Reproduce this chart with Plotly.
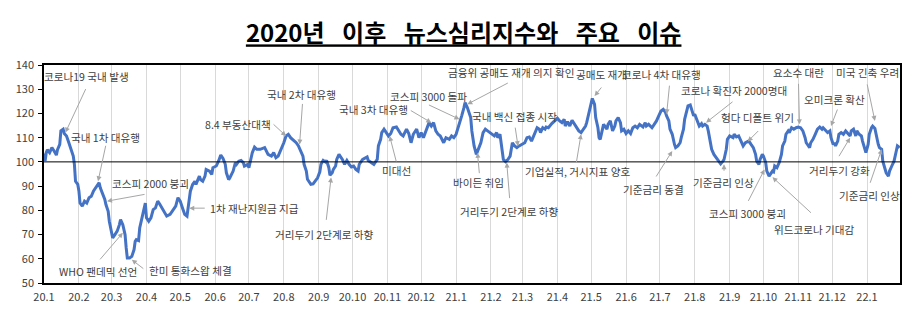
import plotly.graph_objects as go

# News sentiment index (daily observations), 2020-01 .. 2022-01
dates = [
    "2020-01-01", "2020-01-02", "2020-01-03", "2020-01-04", "2020-01-06", "2020-01-08", "2020-01-10", "2020-01-12",
    "2020-01-13", "2020-01-15", "2020-01-16", "2020-01-18", "2020-01-19", "2020-01-21", "2020-01-23", "2020-01-25",
    "2020-01-27", "2020-01-28", "2020-01-29", "2020-01-31",
    "2020-02-01", "2020-02-02", "2020-02-04", "2020-02-06", "2020-02-08", "2020-02-10", "2020-02-12", "2020-02-14",
    "2020-02-16", "2020-02-17", "2020-02-19", "2020-02-20", "2020-02-22", "2020-02-24", "2020-02-25", "2020-02-27",
    "2020-02-28",
    "2020-03-01", "2020-03-02", "2020-03-04", "2020-03-06", "2020-03-08", "2020-03-09", "2020-03-11", "2020-03-13",
    "2020-03-14", "2020-03-15", "2020-03-17", "2020-03-19", "2020-03-21", "2020-03-22", "2020-03-23", "2020-03-25",
    "2020-03-26", "2020-03-28", "2020-03-29", "2020-03-31",
    "2020-04-01", "2020-04-03", "2020-04-05", "2020-04-07", "2020-04-09", "2020-04-11", "2020-04-13", "2020-04-15",
    "2020-04-17", "2020-04-19", "2020-04-22", "2020-04-25", "2020-04-27", "2020-04-29",
    "2020-05-01", "2020-05-03", "2020-05-05", "2020-05-07", "2020-05-08", "2020-05-10", "2020-05-12", "2020-05-14",
    "2020-05-15", "2020-05-18", "2020-05-19", "2020-05-21", "2020-05-23", "2020-05-24", "2020-05-27", "2020-05-29",
    "2020-05-30",
    "2020-06-02", "2020-06-04", "2020-06-06", "2020-06-08", "2020-06-10", "2020-06-11", "2020-06-13", "2020-06-14",
    "2020-06-16", "2020-06-17", "2020-06-19", "2020-06-20", "2020-06-22", "2020-06-24", "2020-06-26", "2020-06-27",
    "2020-06-30",
    "2020-07-01", "2020-07-03", "2020-07-04", "2020-07-06", "2020-07-08", "2020-07-11", "2020-07-15", "2020-07-18",
    "2020-07-21", "2020-07-23", "2020-07-25", "2020-07-27", "2020-07-29",
    "2020-08-01", "2020-08-03", "2020-08-05", "2020-08-07", "2020-08-09", "2020-08-12", "2020-08-14", "2020-08-16",
    "2020-08-18", "2020-08-19", "2020-08-21", "2020-08-22", "2020-08-24", "2020-08-25", "2020-08-27", "2020-08-29",
    "2020-08-31",
    "2020-09-02", "2020-09-03", "2020-09-05", "2020-09-07", "2020-09-08", "2020-09-10", "2020-09-11", "2020-09-13",
    "2020-09-14", "2020-09-16", "2020-09-17", "2020-09-19", "2020-09-20", "2020-09-22", "2020-09-24", "2020-09-26",
    "2020-09-28", "2020-09-30",
    "2020-10-02", "2020-10-04", "2020-10-06", "2020-10-07", "2020-10-10", "2020-10-12", "2020-10-14", "2020-10-15",
    "2020-10-18", "2020-10-20", "2020-10-21", "2020-10-23", "2020-10-24", "2020-10-26", "2020-10-27", "2020-10-29",
    "2020-10-31",
    "2020-11-02", "2020-11-04", "2020-11-06", "2020-11-09", "2020-11-11", "2020-11-13", "2020-11-15", "2020-11-18",
    "2020-11-20", "2020-11-22", "2020-11-24", "2020-11-27", "2020-11-29",
    "2020-12-01", "2020-12-03", "2020-12-05", "2020-12-08", "2020-12-10", "2020-12-12", "2020-12-14", "2020-12-16",
    "2020-12-18", "2020-12-20", "2020-12-21", "2020-12-23", "2020-12-26", "2020-12-28", "2020-12-30",
    "2021-01-01", "2021-01-03", "2021-01-06", "2021-01-08", "2021-01-09", "2021-01-11", "2021-01-14", "2021-01-15",
    "2021-01-17", "2021-01-19", "2021-01-21", "2021-01-23", "2021-01-25", "2021-01-27", "2021-01-29", "2021-01-31",
    "2021-02-02", "2021-02-04", "2021-02-06", "2021-02-07", "2021-02-09", "2021-02-10", "2021-02-11", "2021-02-12",
    "2021-02-14", "2021-02-16", "2021-02-18", "2021-02-19", "2021-02-20", "2021-02-22", "2021-02-24", "2021-02-26",
    "2021-03-01", "2021-03-03", "2021-03-05", "2021-03-07", "2021-03-09", "2021-03-11", "2021-03-13", "2021-03-14",
    "2021-03-16", "2021-03-17", "2021-03-19", "2021-03-21", "2021-03-22", "2021-03-24", "2021-03-27", "2021-03-28",
    "2021-03-30",
    "2021-04-01", "2021-04-03", "2021-04-05", "2021-04-07", "2021-04-08", "2021-04-10", "2021-04-12", "2021-04-14",
    "2021-04-16", "2021-04-18", "2021-04-20", "2021-04-22", "2021-04-24", "2021-04-26", "2021-04-27", "2021-04-29",
    "2021-05-01", "2021-05-02", "2021-05-04", "2021-05-05", "2021-05-07", "2021-05-08", "2021-05-09", "2021-05-11",
    "2021-05-12", "2021-05-15", "2021-05-16", "2021-05-18", "2021-05-20", "2021-05-22", "2021-05-23", "2021-05-25",
    "2021-05-27", "2021-05-28", "2021-05-30",
    "2021-06-01", "2021-06-03", "2021-06-05", "2021-06-07", "2021-06-09", "2021-06-11", "2021-06-13", "2021-06-16",
    "2021-06-18", "2021-06-19", "2021-06-21", "2021-06-24", "2021-06-26", "2021-06-28", "2021-06-30",
    "2021-07-02", "2021-07-04", "2021-07-06", "2021-07-07", "2021-07-09", "2021-07-10", "2021-07-12", "2021-07-14",
    "2021-07-15", "2021-07-17", "2021-07-19", "2021-07-20", "2021-07-22", "2021-07-23", "2021-07-25", "2021-07-26",
    "2021-07-28", "2021-07-29", "2021-07-31",
    "2021-08-01", "2021-08-03", "2021-08-05", "2021-08-07", "2021-08-08", "2021-08-10", "2021-08-12", "2021-08-13",
    "2021-08-15", "2021-08-16", "2021-08-18", "2021-08-20", "2021-08-22", "2021-08-24", "2021-08-26", "2021-08-27",
    "2021-08-29", "2021-08-30",
    "2021-09-01", "2021-09-04", "2021-09-05", "2021-09-07", "2021-09-09", "2021-09-11", "2021-09-13", "2021-09-15",
    "2021-09-18", "2021-09-20", "2021-09-22", "2021-09-24", "2021-09-25", "2021-09-27", "2021-09-28", "2021-09-30",
    "2021-10-01", "2021-10-03", "2021-10-04", "2021-10-06", "2021-10-07", "2021-10-09", "2021-10-10", "2021-10-11",
    "2021-10-13", "2021-10-15", "2021-10-17", "2021-10-18", "2021-10-20", "2021-10-21", "2021-10-23", "2021-10-24",
    "2021-10-26", "2021-10-28", "2021-10-30",
    "2021-11-01", "2021-11-03", "2021-11-05", "2021-11-07", "2021-11-08", "2021-11-10", "2021-11-11", "2021-11-12",
    "2021-11-14", "2021-11-16", "2021-11-18", "2021-11-20", "2021-11-22", "2021-11-23", "2021-11-26", "2021-11-27",
    "2021-11-29", "2021-11-30",
    "2021-12-02", "2021-12-03", "2021-12-04", "2021-12-06", "2021-12-07", "2021-12-09", "2021-12-11", "2021-12-13",
    "2021-12-15", "2021-12-17", "2021-12-18", "2021-12-20", "2021-12-22", "2021-12-23", "2021-12-25", "2021-12-27",
    "2021-12-28", "2021-12-30", "2021-12-31",
    "2022-01-02", "2022-01-03", "2022-01-05", "2022-01-06", "2022-01-08", "2022-01-09", "2022-01-11", "2022-01-12",
    "2022-01-14", "2022-01-15", "2022-01-17", "2022-01-18", "2022-01-20", "2022-01-21", "2022-01-23", "2022-01-24",
    "2022-01-25", "2022-01-27", "2022-01-28", "2022-01-30",
]

index_values = [
    103.5, 100.5, 103.8, 105.0, 103.8, 105.9, 104.5, 102.8, 105.0, 107.2, 112.8, 113.5, 111.7, 110.7, 108.0, 105.0,
    102.4, 99.0, 92.0, 90.7,
    88.0, 83.0, 81.7, 83.8, 83.0, 85.2, 85.8, 88.0, 89.3, 89.6, 91.4, 89.3, 87.2, 84.5, 82.4, 79.6, 75.5,
    71.4, 68.6, 70.0, 71.4, 74.1, 76.2, 74.1, 70.0, 64.5, 60.3, 60.3, 61.0, 63.8, 67.2, 67.9, 67.5, 72.7, 76.9,
    77.6, 83.0,
    76.9, 75.5, 76.9, 80.3, 81.0, 83.8, 82.4, 80.7, 79.6, 77.6, 78.3, 80.3, 81.7, 85.2,
    83.8, 81.0, 78.3, 77.6, 81.0, 87.9, 90.7, 92.0, 90.7, 94.1, 92.7, 92.0, 94.1, 96.9, 96.2, 94.8, 97.6,
    98.3, 100.3, 102.8, 101.4, 99.0, 95.5, 92.7, 93.4, 95.5, 96.2, 99.7, 99.0, 100.3, 100.6, 99.7, 98.3, 99.0,
    97.6, 101.7, 103.8, 106.1, 105.2, 105.2, 105.9, 103.1, 102.4, 103.8, 101.7, 102.4, 104.5,
    107.9, 110.7, 111.4, 110.0, 109.3, 107.9, 106.6, 104.5, 102.4, 99.0, 96.2, 92.8, 91.4, 90.7, 90.9, 92.0, 93.4,
    95.9, 99.0, 100.6, 100.0, 100.6, 97.6, 94.5, 95.5, 96.9, 98.3, 101.0, 103.1, 102.4, 101.0, 99.0, 100.6, 99.0,
    97.9,
    98.3, 96.9, 96.2, 99.0, 101.0, 101.4, 102.0, 100.6, 99.7, 99.0, 99.7, 101.0, 106.6, 109.3, 112.1, 113.5, 112.1,
    110.7, 111.7, 114.1, 114.4, 112.8, 111.4, 110.7, 113.5, 111.7, 107.9, 111.4, 113.5, 110.0,
    112.1, 110.0, 112.8, 116.2, 114.8, 116.2, 112.8, 111.4, 110.7, 108.6, 107.9, 110.0, 109.3, 110.7, 110.0,
    111.4, 114.1, 119.0, 122.4, 124.5, 122.4, 118.3, 112.8, 106.6, 103.1, 105.2, 107.9, 112.1, 113.5, 112.8, 112.1,
    111.4, 110.7, 112.1, 110.0, 111.4, 107.2, 104.5, 101.0, 100.1, 101.0, 102.4, 105.2, 107.9, 106.6, 105.9, 106.6,
    107.2, 107.9, 110.0, 110.3, 108.6, 110.7, 112.8, 114.1, 113.5, 112.1, 114.1, 113.5, 114.4, 114.1, 115.8, 116.2,
    116.9,
    118.0, 116.9, 116.2, 117.6, 114.8, 116.6, 114.8, 117.2, 115.8, 114.1, 112.8, 112.1, 113.5, 114.8, 116.2, 120.4,
    123.8, 126.2, 123.8, 118.3, 114.1, 110.0, 109.3, 114.1, 115.5, 113.5, 115.5, 116.9, 112.8, 114.8, 116.9, 118.3,
    116.2, 112.8, 113.5,
    111.7, 112.8, 111.7, 114.1, 114.8, 114.1, 115.5, 114.4, 116.2, 114.8, 115.5, 114.1, 115.5, 116.9, 119.0,
    121.0, 121.7, 120.4, 119.0, 116.9, 113.5, 111.4, 107.2, 105.9, 106.6, 107.9, 110.0, 113.5, 117.6, 121.0, 123.1,
    123.5, 121.7, 119.0,
    119.7, 116.9, 114.8, 115.8, 114.8, 115.5, 114.8, 112.8, 108.6, 105.2, 103.1, 101.7, 100.1, 99.2, 100.3, 101.0,
    105.2, 109.3,
    110.7, 110.0, 111.4, 110.3, 110.7, 108.6, 106.6, 107.9, 108.6, 107.2, 105.9, 103.1, 100.3, 99.0, 101.0, 103.1,
    102.4, 99.7, 96.2, 94.1, 94.8, 96.2, 95.9, 98.3, 97.6, 99.7, 103.1, 106.6, 108.6, 111.4, 112.8, 112.1,
    114.1, 113.5, 114.1,
    114.4, 114.1, 112.8, 110.0, 107.9, 106.6, 105.9, 107.9, 109.3, 111.4, 113.5, 114.4, 113.5, 114.1, 112.8, 112.1,
    112.8, 110.0,
    107.2, 107.9, 106.6, 108.6, 111.4, 112.1, 111.4, 112.8, 111.7, 110.7, 112.8, 113.5, 110.7, 112.8, 111.4, 110.7,
    108.6, 105.2, 103.8,
    107.2, 111.4, 114.1, 114.8, 113.8, 111.4, 107.2, 105.9, 105.2, 100.3, 96.2, 95.5, 94.1, 96.2, 98.3, 99.7,
    100.3, 104.5, 106.6, 105.9,
]

# Month ticks on the x axis
month_ticks = [
    "2020-01-01", "2020-02-01", "2020-03-01", "2020-04-01", "2020-05-01", "2020-06-01",
    "2020-07-01", "2020-08-01", "2020-09-01", "2020-10-01", "2020-11-01", "2020-12-01",
    "2021-01-01", "2021-02-01", "2021-03-01", "2021-04-01", "2021-05-01", "2021-06-01",
    "2021-07-01", "2021-08-01", "2021-09-01", "2021-10-01", "2021-11-01", "2021-12-01",
    "2022-01-01",
]
month_labels = [
    "20.1", "20.2", "20.3", "20.4", "20.5", "20.6", "20.7", "20.8", "20.9", "20.10", "20.11", "20.12",
    "21.1", "21.2", "21.3", "21.4", "21.5", "21.6", "21.7", "21.8", "21.9", "21.10", "21.11", "21.12",
    "22.1",
]

# Key issues: label, date the arrow points at, index level at the arrow head
event_labels = [
    "코로나19 국내 발생", "국내 1차 대유행", "코스피 2000 붕괴", "WHO 팬데믹 선언", "한미 통화스왑 체결",
    "1차 재난지원금 지급", "8.4 부동산대책", "국내 2차 대유행", "거리두기 2단계로 하향", "국내 3차 대유행",
    "미대선", "코스피 3000 돌파", "금융위 공매도 재개 의지 확인", "공매도 재개", "코로나 4차 대유행",
    "국내 백신 접종 시작", "바이든 취임", "거리두기 2단계로 하향", "기업실적, 거시지표 양호", "기준금리 동결",
    "코로나 확진자 2000명대", "기준금리 인상", "헝다 디폴트 위기", "코스피 3000 붕괴", "위드코로나 기대감",
    "요소수 대란", "미국 긴축 우려", "오미크론 확산", "거리두기 강화", "기준금리 인상",
]
event_dates = [
    "2020-01-20", "2020-02-18", "2020-02-26", "2020-03-11", "2020-03-19",
    "2020-05-09", "2020-08-03", "2020-08-15", "2020-09-12", "2020-12-10",
    "2020-11-03", "2021-01-04", "2021-01-11", "2021-05-04", "2021-07-07",
    "2021-02-25", "2021-01-20", "2021-02-15", "2021-04-22", "2021-07-12",
    "2021-08-11", "2021-08-27", "2021-09-17", "2021-10-02", "2021-10-09",
    "2021-11-02", "2022-01-08", "2021-11-30", "2021-12-17", "2022-01-14",
]
event_levels = [
    112.1, 92.0, 83.8, 70.7, 59.6,
    80.9, 110.7, 107.2, 93.6, 116.2,
    110.7, 117.6, 123.8, 127.2, 119.7,
    106.5, 103.8, 99.7, 111.4, 104.5,
    116.2, 99.0, 108.4, 96.9, 93.7,
    115.5, 116.9, 114.8, 110.0, 105.2,
]

# Placement of each callout: arrow tail offset and label offset from the arrow head (px)
callout_layout = [
    (21, -45, 21, 56), (8, -37, 7, 44), (39, -7, 43, 18), (-24, 28, -25, -39), (13, 10, 59, -11),
    (17, 0, 65, 0), (-14, -13, -48, 11), (3, -42, 2, 50), (-5, 44, -7, -57), (-22, -13, -58, 13),
    (7, 27, 7, -35), (-32, -15, -31, 23), (42, -22, 44, 32), (8, -10, 7, 22), (3, -30, -5, 40),
    (-3, -20, -4, 30), (2, 22, 1, -30), (3, 37, 3, -49), (-5, 30, -4, -37), (-17, 27, -19, -39),
    (28, -22, 28, 32), (0, 8, -1, -18), (12, -12, 10, 24), (-17, 33, -17, -44), (40, 37, 42, -52),
    (-1, -42, -1, 52), (-8, -38, -7, 48), (7, -18, 4, 27), (-12, 20, -11, -33), (-12, 35, -12, -46),
]

FONT = "Noto Sans CJK KR"
LINE_BLUE = "#4472C4"
ARROW_GREY = "#A6A6A6"
TEXT_GREY = "#404040"

fig = go.Figure()

fig.add_trace(go.Scatter(
    x=dates, y=index_values, mode="lines",
    line=dict(color=LINE_BLUE, width=3),
    hoverinfo="skip", showlegend=False,
))

# Reference level at 100
fig.add_shape(type="line", xref="paper", x0=0, x1=1, yref="y", y0=100, y1=100,
              line=dict(color="black", width=1))

annotations = []
for label, d, lvl, (tdx, tdy, lx, ly) in zip(event_labels, event_dates, event_levels, callout_layout):
    # arrow from tail to head
    annotations.append(dict(
        x=d, y=lvl, xref="x", yref="y", text="", showarrow=True,
        ax=tdx, ay=tdy, axref="pixel", ayref="pixel",
        arrowhead=2, arrowsize=1, arrowwidth=1, arrowcolor=ARROW_GREY,
    ))
    # label text
    annotations.append(dict(
        x=d, y=lvl, xref="x", yref="y", text=label, showarrow=False,
        xshift=lx, yshift=ly, xanchor="center", yanchor="middle",
        font=dict(family=FONT, size=10.6, color=TEXT_GREY),
    ))

fig.update_layout(
    width=920, height=323,
    margin=dict(l=44, r=20, t=65, b=40),
    paper_bgcolor="white", plot_bgcolor="white",
    title=dict(
        text="2020년\u2002\u00a0이후\u2002\u00a0뉴스심리지수와\u2002\u00a0주요\u2002\u00a0이슈",
        x=0.504, xref="container", xanchor="center",
        y=1 - 34 / 323, yref="container", yanchor="middle",
        font=dict(family=FONT, size=24, color="black", weight="bold", lineposition="under"),
    ),
    annotations=annotations,
    showlegend=False,
)

fig.update_xaxes(
    type="date",
    range=["2020-01-01", "2022-01-30 07:00"],
    tickmode="array", tickvals=month_ticks, ticktext=month_labels,
    showgrid=True, gridcolor="#D9D9D9", gridwidth=1,
    showline=True, linecolor="black", linewidth=1.5, mirror=True,
    ticks="", ticklabelstandoff=3,
    tickfont=dict(family=FONT, size=11, color="#404040"),
    zeroline=False,
)
fig.update_yaxes(
    range=[50, 140], tickmode="array", tickvals=[50, 60, 70, 80, 90, 100, 110, 120, 130, 140],
    showgrid=False,
    showline=True, linecolor="black", linewidth=1.5, mirror=True,
    ticks="outside", ticklen=4, tickcolor="black", tickwidth=1,
    ticklabelstandoff=2,
    tickfont=dict(family=FONT, size=11, color="#404040"),
    zeroline=False,
)

fig.write_html("out.html")
